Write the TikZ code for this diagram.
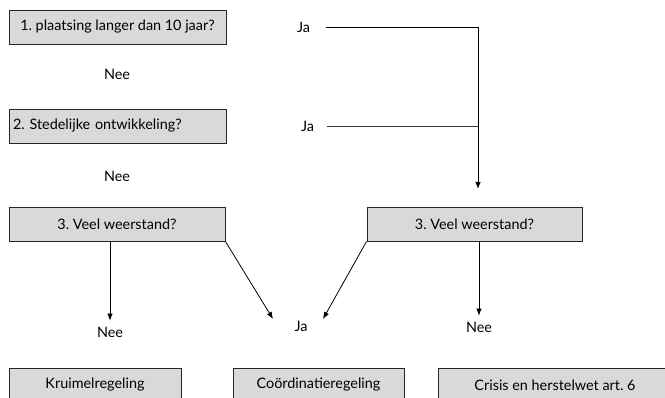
\documentclass[tikz,border=0pt]{standalone}
\usepackage{fontspec}
\setmainfont{Lato}
\usepackage{tikz}
\usetikzlibrary{positioning, calc, arrows.meta}
\definecolor{boxgray}{RGB}{217,217,217}
\frenchspacing

\begin{document}
\begin{tikzpicture}[x=1pt, y=-1pt, font=\fontsize{14.4}{17}\selectfont,
	box/.style={draw=black!85, line width=0.9pt, fill=boxgray, minimum height=34pt, inner sep=4pt},
	answer/.style={inner sep=0pt},
	edge/.style={-{Latex[length=7pt, width=5.5pt]}, line width=0.8pt}]

	\useasboundingbox (0,0) rectangle (665,398);

	% questions
	\node[box, minimum width=217pt] (q1) at (117.5,27) {1. plaatsing langer dan 10 jaar?};
	\node[box, text width=209pt, align=left] (q2) at (117.5,126) {2. Stedelijke ontwikkeling?};
	\node[box, minimum width=216pt] (q3l) at (117,224) {3. Veel weerstand?};
	\node[box, minimum width=215pt] (q3r) at (474.5,224) {3. Veel weerstand?};

	% outcomes
	\node[box, minimum width=172pt] (kruimel) at (95,385) {Kruimelregeling};
	\node[box, minimum width=171pt] (coord) at (318.5,385) {Coördinatieregeling};
	\node[box, minimum width=234pt] (crisis) at (555,385) {Crisis en herstelwet art. 6};

	% answers
	\foreach \name/\position/\text in {nee1/{(117,74)}/Nee, nee2/{(117,176)}/Nee, ja1/{(303.5,27)}/Ja, ja2/{(307.5,126)}/Ja, nee3/{(110,332)}/Nee, jam/{(301,326)}/Ja, nee4/{(479,327)}/Nee}
	{
		\node[answer] (\name) at \position {\text};
	}

	\coordinate (corner) at (478,27);
	\coordinate (tip) at (478,189);
	\coordinate (inl) at (273,319);
	\coordinate (inr) at (323,319);

	\draw[line width=0.8pt] ([xshift=16pt]ja1.east) -- (corner);
	\draw[line width=0.8pt, black!80] ([xshift=13pt]ja2.east) -- (corner |- ja2);
	\draw[edge] (corner) -- (tip);

	\draw[edge] (q3l.south -| nee3) -- ([yshift=6pt]nee3.north);
	\draw[edge] (q3l.south east) -- (inl);
	\draw[edge] (q3r.south west) -- (inr);
	\draw[edge] (q3r.south -| nee4) -- ([yshift=6pt]nee4.north);

\end{tikzpicture}
\end{document}
